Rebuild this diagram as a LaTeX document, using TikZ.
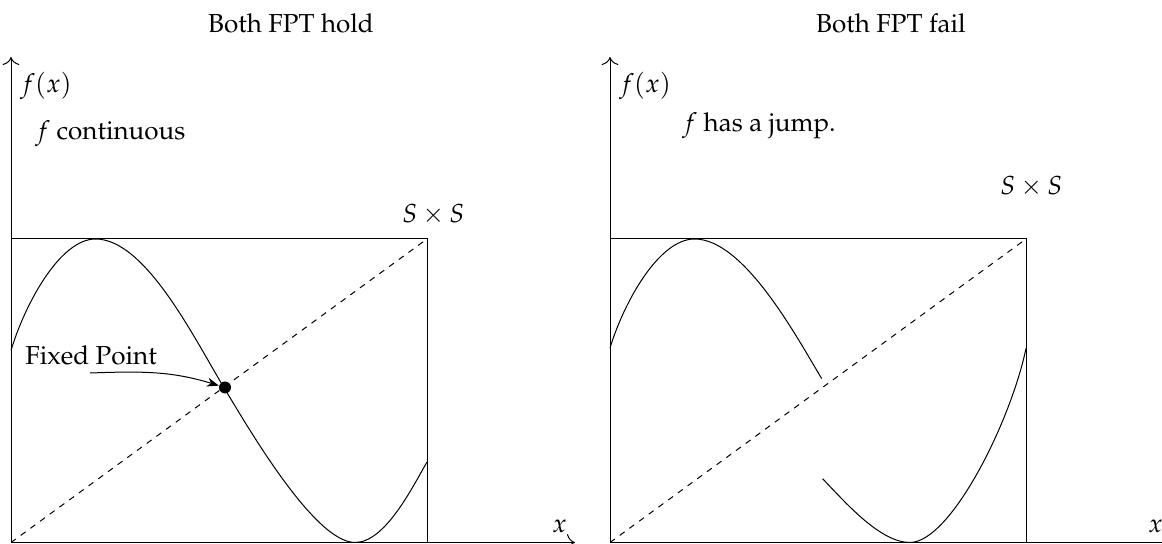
\documentclass[tikz,border=0pt]{standalone}
\usepackage[T1]{fontenc}
\usepackage{mathpazo}
\usetikzlibrary{arrows.meta}

\begin{document}
\begin{tikzpicture}[x=0.5pt, y=0.5pt, font=\fontsize{13}{15.5}\selectfont,
  axis/.style={-{To[length=4pt]}, line width=0.5pt},
  graph/.style={line width=0.5pt},
  diag/.style={dashed, line width=0.5pt}]
  \useasboundingbox (0,0) rectangle (1162,544);

  % left panel: both FPT hold
  \coordinate (lo) at (11,1.5);
  \coordinate (ltr) at (427,305);
  \coordinate (ly) at (11,487);
  \coordinate (lx) at (575,1.5);
  \draw[axis] (lo) -- (ly);
  \draw[axis] (lo) -- (lx);
  \draw[graph] (lo) rectangle (ltr);
  \draw[diag] (lo) -- (ltr);
  \draw[graph] (11,193.6) .. controls (25,240) and (60,305) .. (95.5,305)
    .. controls (145,305) and (193,208) .. (223.6,157)
    .. controls (249.4,114.2) and (315,1.5) .. (355,1.5)
    .. controls (385,1.5) and (412,56) .. (427,82);
  \node (holdtitle) [anchor=base] at (291,511) {Both FPT hold};
  \node (lfx) [anchor=base west, inner sep=0pt] at (20,451) {$f(x)$};
  \node (lcont) [anchor=base west, inner sep=0pt] at (35,404) {$f$ continuous};
  \node (lss) [anchor=base west, inner sep=0pt] at (402,321) {$S\times S$};
  \node (lxlab) [anchor=base west, inner sep=0pt] at (552,11) {$x$};
  \node (fplab) [anchor=base west, inner sep=0pt] at (25,179) {Fixed Point};
  \node (fp) [circle, fill, inner sep=0pt, minimum size=6pt] at (225,156.5) {};
  \coordinate (fpstart) at (90,171);
  \draw[-{Stealth[length=6pt]}, line width=0.5pt] (fpstart) to[out=2, in=163] (fp);

  % right panel: both FPT fail
  \coordinate (ro) at (610,1.5);
  \coordinate (rtr) at (1026,305);
  \coordinate (ry) at (610,487);
  \coordinate (rx) at (1175,1.5);
  \draw[axis] (ro) -- (ry);
  \draw[axis] (ro) -- (rx);
  \draw[graph] (ro) rectangle (rtr);
  \draw[diag] (ro) -- (rtr);
  \draw[graph] (610,196) .. controls (624,242) and (659,305) .. (694.5,305)
    .. controls (744,305) and (796,208) .. (821.7,165.4);
  \draw[graph] (822.6,65.3) .. controls (845,42) and (880,1.5) .. (909.9,1.5)
    .. controls (950,1.5) and (1010,120) .. (1026,195.5);
  \node (failtitle) [anchor=base] at (891,511) {Both FPT fail};
  \node (rfx) [anchor=base west, inner sep=0pt] at (619,451) {$f(x)$};
  \node (rjump) [anchor=base west, inner sep=0pt] at (682,412) {$f$ has a jump.};
  \node (rss) [anchor=base west, inner sep=0pt] at (1000,349) {$S\times S$};
  \node (rxlab) [anchor=base west, inner sep=0pt] at (1148,11) {$x$};
\end{tikzpicture}
\end{document}
